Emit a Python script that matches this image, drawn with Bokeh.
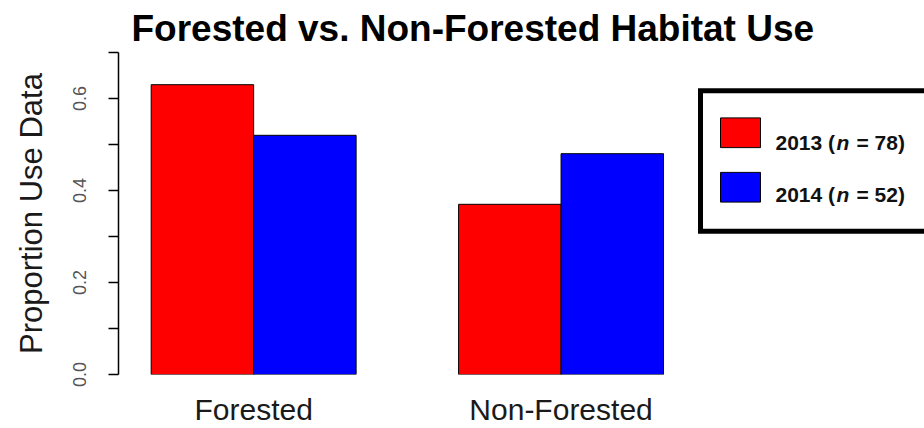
from bokeh.plotting import figure
from bokeh.models import Range1d, FixedTicker, NumeralTickFormatter
from bokeh.core.properties import value
from bokeh.embed import file_html
from bokeh.resources import INLINE

# ---- data ----
habitats = ["Forested", "Non-Forested"]
years = ["2013", "2014"]
sample_sizes = [78, 52]
proportion_2013 = [0.63, 0.37]
proportion_2014 = [0.52, 0.48]
bar_colors = ["#FF0000", "#0000FF"]
y_major_ticks = [0.0, 0.2, 0.4, 0.6]
y_minor_ticks = [0.1, 0.3, 0.5, 0.7]

FONT = "Liberation Sans"

p = figure(width=924, height=428,
           x_range=Range1d(0.681, 8.547), y_range=Range1d(0, 0.7),
           output_backend="svg", toolbar_location=None,
           min_border_left=118, min_border_right=0,
           min_border_top=52, min_border_bottom=51)
p.extra_x_ranges = {"px": Range1d(0, 806)}
p.extra_y_ranges = {"py": Range1d(0, 325)}

p.background_fill_color = "white"
p.border_fill_color = "white"
p.outline_line_color = None
p.xgrid.grid_line_color = None
p.ygrid.grid_line_color = None

# ---- bars (R barplot beside=TRUE, space=c(0,1)) ----
series = [proportion_2013, proportion_2014]
for s, (vals, col) in enumerate(zip(series, bar_colors)):
    xs = [1.5 + 3 * g + s for g in range(len(habitats))]
    p.vbar(x=xs, top=vals, bottom=0, width=1.0,
           fill_color=col, line_color="black", line_width=1)

# ---- axes ----
p.xaxis.ticker = FixedTicker(ticks=[2 + 3 * g for g in range(len(habitats))])
p.xaxis.major_label_overrides = {2 + 3 * g: h for g, h in enumerate(habitats)}
p.xaxis.axis_line_color = None
p.xaxis.major_tick_line_color = None
p.xaxis.minor_tick_line_color = None
p.xaxis.major_label_text_font = FONT
p.xaxis.major_label_text_font_size = "30px"
p.xaxis.major_label_text_color = "#1a1a1a"
p.xaxis.major_label_standoff = 12

p.yaxis.ticker = FixedTicker(ticks=y_major_ticks, minor_ticks=y_minor_ticks)
p.yaxis.formatter = NumeralTickFormatter(format="0.0")
p.yaxis.axis_line_color = "black"
p.yaxis.axis_line_width = 1.5
p.yaxis.major_tick_line_color = "black"
p.yaxis.major_tick_line_width = 1.5
p.yaxis.minor_tick_line_color = "black"
p.yaxis.minor_tick_line_width = 1.5
p.yaxis.major_tick_in = 0
p.yaxis.major_tick_out = 10
p.yaxis.minor_tick_in = 0
p.yaxis.minor_tick_out = 10
p.yaxis.major_label_orientation = "vertical"
p.yaxis.major_label_text_font = FONT
p.yaxis.major_label_text_font_size = "18px"
p.yaxis.major_label_text_color = "#555555"
p.yaxis.major_label_standoff = 23
p.yaxis.axis_label = "Proportion Use Data"
p.yaxis.axis_label_text_font = FONT
p.yaxis.axis_label_text_font_size = "31px"
p.yaxis.axis_label_text_font_style = "normal"
p.yaxis.axis_label_text_color = "#1a1a1a"
p.yaxis.axis_label_standoff = 21

# ---- title ----
p.title.text = "Forested vs. Non-Forested Habitat Use"
p.title.text_font = FONT
p.title.text_font_size = "37px"
p.title.text_font_style = "bold"
p.title.text_color = "black"
p.title.align = "left"
p.title.offset = 13
p.title.standoff = 8

# ---- legend (drawn in frame pixel coordinates, cut off at the right) ----
p.quad(left=[582], right=[850], top=[286.5], bottom=[144.5],
       fill_color="white", line_color=None,
       x_range_name="px", y_range_name="py")
p.line(x=[850, 582, 582, 850], y=[286.5, 286.5, 144.5, 144.5],
       line_color="black", line_width=5, line_join="miter",
       x_range_name="px", y_range_name="py")
for i, (yr, n, col) in enumerate(zip(years, sample_sizes, bar_colors)):
    top = 259 - 55 * i
    p.quad(left=[602], right=[642], top=[top], bottom=[top - 30],
           fill_color=col, line_color="black", line_width=1,
           x_range_name="px", y_range_name="py")
    base = 234 - 52 * i
    pieces = [(657, f"{yr} (", "bold"), (718, "n", "bold italic"), (738, f"= {n})", "bold")]
    for xp, txt, style in pieces:
        p.text(x=[xp], y=[base], text=[txt], text_font=value(FONT),
               text_font_style=style, text_font_size="21px",
               text_color="#111111", text_baseline="alphabetic",
               text_align="left", x_range_name="px", y_range_name="py")

open("out.html", "w").write(file_html(p, INLINE))
